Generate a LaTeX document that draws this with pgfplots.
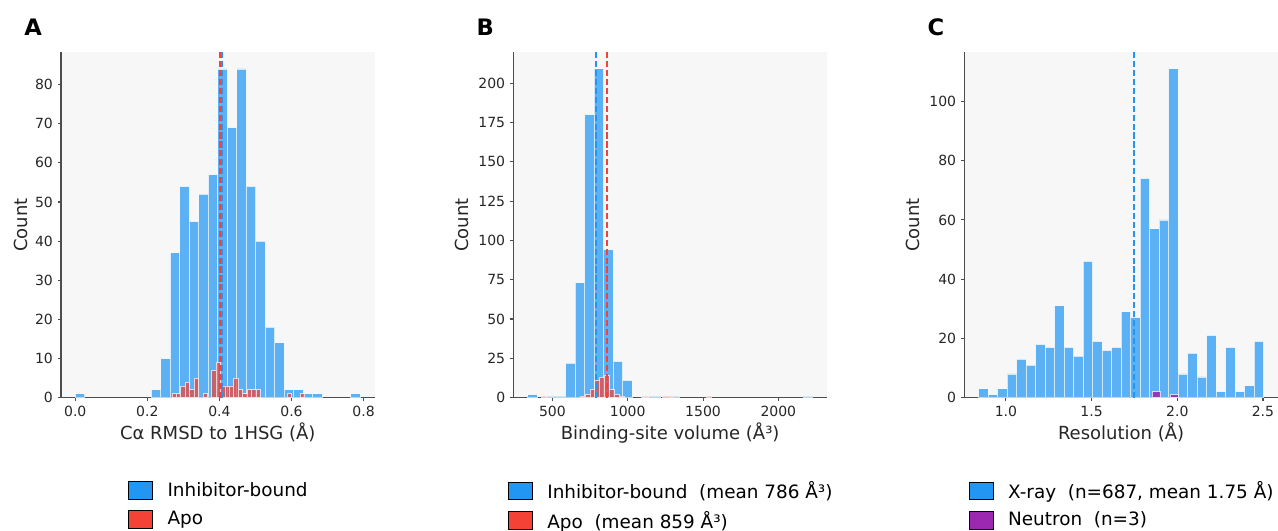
\documentclass[border=0pt]{standalone}
\usepackage{pgfplots}
\pgfplotsset{compat=1.18}
\usepackage{fontspec}
\setmainfont{DejaVu Sans}
\definecolor{cblue}{HTML}{2196F3}
\definecolor{cred}{HTML}{F44336}
\definecolor{cpurple}{HTML}{9C27B0}
\definecolor{bgc}{HTML}{F7F7F7}
\definecolor{spine}{HTML}{4D4D4D}
\tikzset{letter/.style={anchor=base west, inner sep=0pt, font=\bfseries\fontsize{17}{20}\selectfont}}
\pgfplotsset{
  panel/.style={
    scale only axis, width=235.2pt, height=258.9pt, anchor=south west,
    axis x line=bottom, axis y line=left,
    axis background/.style={fill=bgc},
    axis line style={-, spine, line width=0.8pt},
    tick align=outside, major tick length=2.6pt,
    tick style={spine, line width=0.8pt},
    ticklabel style={font=\fontsize{10.5}{12}\selectfont, text=black!85},
    label style={font=\fontsize{13.5}{16}\selectfont, text=black!85},
    /pgf/number format/assume math mode=true,
    /pgf/number format/1000 sep={},
    scaled ticks=false, ymin=0, clip=false,
    ylabel=Count,
    xlabel style={at={(rel axis cs:0.5,0)}, anchor=base, yshift=-31.5pt},
    legend style={draw=none, fill=none, at={(0.5,-0.2412)}, anchor=north,
      font=\fontsize{13.8}{16}\selectfont, row sep=8pt, inner sep=0pt,
      nodes={inner sep=0pt},
      /tikz/every odd column/.append style={column sep=11.25pt}},
    legend cell align=left,
  },
  hb/.style={ybar, bar shift=0pt, bar width=#1, draw=white, draw opacity=0.7,
    line width=0.6pt, fill opacity=0.72, forget plot},
  mline/.style={line width=1.5pt, dash pattern=on 4.6pt off 2.1pt, forget plot},
  patch/.style={legend image code/.code={\fill[##1] (0pt,-6.6pt) rectangle (18pt,6.6pt);}},
}
\begin{document}
\begin{tikzpicture}
\path[use as bounding box] (0,0) rectangle (958.5pt,398.25pt);

% A: C-alpha RMSD
\begin{axis}[panel, at={(45.75pt,100pt)},
  xmin=-0.0396, xmax=0.8306, ymax=88.2,
  xtick={0,0.2,0.4,0.6,0.8}, ytick={0,10,20,30,40,50,60,70,80},
  xticklabel style={/pgf/number format/.cd, fixed, fixed zerofill, precision=1},
  xlabel={Cα RMSD to 1HSG (Å)},
  ylabel style={at={(rel axis cs:0,0.5)}, anchor=center, yshift=29.8pt}]
\addplot[hb=0.02637, fill=cblue] coordinates {
  (0.01319,1) (0.2241,2) (0.2505,10) (0.2769,37) (0.3033,54) (0.3296,45)
  (0.3560,52) (0.3824,57) (0.4087,84) (0.4351,69) (0.4615,84) (0.4879,54)
  (0.5142,40) (0.5406,18) (0.5670,14) (0.5933,2) (0.6197,2) (0.6461,1)
  (0.6725,1) (0.7779,1)};
\addplot[hb=0.01225, fill=cred] coordinates {
  (0.27463,1) (0.28688,1) (0.29913,3) (0.31138,4) (0.32363,2) (0.33588,5)
  (0.36038,1) (0.38488,7) (0.39713,9) (0.40938,3) (0.42163,3) (0.43388,3)
  (0.44613,5) (0.45838,2) (0.47063,1) (0.48288,2) (0.49513,2) (0.50738,2)
  (0.59395,1) (0.63070,1)};
\addplot[mline, cblue] coordinates {(0.408,0) (0.408,88.2)};
\addplot[mline, cred] coordinates {(0.401,0) (0.401,88.2)};
\addlegendimage{patch, fill=cblue}
\addlegendentry{Inhibitor-bound}
\addlegendimage{patch, fill=cred}
\addlegendentry{Apo}
\node[letter] at (rel axis cs:0,1) [xshift=-27.75pt, yshift=12.4pt] {A};
\end{axis}

% B: binding-site volume
\begin{axis}[panel, at={(385pt,100pt)},
  xmin=240.4, xmax=2322.6, ymax=219.45,
  xtick={500,1000,1500,2000}, ytick={0,25,50,75,100,125,150,175,200},
  xlabel={Binding-site volume (Å³)},
  ylabel style={at={(rel axis cs:0,0.5)}, anchor=center, yshift=38.5pt}]
\addplot[hb=63.1, fill=cblue] coordinates {
  (366.55,2) (492.75,1) (555.85,1) (618.95,22) (682.05,73) (745.15,180)
  (808.25,209) (871.35,94) (934.45,23) (997.55,11) (1123.75,1) (1186.85,1)
  (1313.05,1) (2196.45,1)};
\addplot[hb=32.3, fill=cred] coordinates {
  (443.15,1) (700.35,1) (732.65,2) (764.95,5) (797.25,11) (829.55,13)
  (861.85,14) (894.15,5) (926.45,2) (958.75,1) (1120.25,1) (1249.45,1)
  (1281.75,1) (1540.15,1)};
\addplot[mline, cblue] coordinates {(786,0) (786,219.45)};
\addplot[mline, cred] coordinates {(859,0) (859,219.45)};
\addlegendimage{patch, fill=cblue}
\addlegendentry{Inhibitor-bound\ \ (mean 786 Å³)}
\addlegendimage{patch, fill=cred}
\addlegendentry{Apo\ \ (mean 859 Å³)}
\node[letter] at (rel axis cs:0,1) [xshift=-27.75pt, yshift=12.4pt] {B};
\end{axis}

% C: resolution
\begin{axis}[panel, at={(723.2pt,100pt)},
  xmin=0.7568, xmax=2.587, ymax=116.55,
  xtick={1,1.5,2,2.5}, ytick={0,20,40,60,80,100},
  xticklabel style={/pgf/number format/.cd, fixed, fixed zerofill, precision=1},
  xlabel={Resolution (Å)},
  ylabel style={at={(rel axis cs:0,0.5)}, anchor=center, yshift=38.5pt}]
\addplot[hb=0.05547, fill=cblue] coordinates {
  (0.86774,3) (0.92321,1) (0.97868,3) (1.03415,8) (1.08962,13) (1.14509,11)
  (1.20056,18) (1.25603,17) (1.31150,31) (1.36697,17) (1.42244,14) (1.47791,46)
  (1.53338,19) (1.58885,16) (1.64432,17) (1.69979,29) (1.75526,27) (1.81073,74)
  (1.86620,57) (1.92167,60) (1.97714,111) (2.03261,8) (2.08808,15) (2.14355,7)
  (2.19902,21) (2.25449,2) (2.30996,17) (2.36543,2) (2.42090,4) (2.47637,19)};
\addplot[hb=0.049, fill=cpurple, fill opacity=0.85] coordinates {
  (1.8775,2) (1.9825,1)};
\addplot[mline, cblue] coordinates {(1.75,0) (1.75,116.55)};
\addlegendimage{patch, fill=cblue}
\addlegendentry{X-ray\ \ (n=687, mean 1.75 Å)}
\addlegendimage{patch, fill=cpurple}
\addlegendentry{Neutron\ \ (n=3)}
\node[letter] at (rel axis cs:0,1) [xshift=-27.75pt, yshift=12.4pt] {C};
\end{axis}
\end{tikzpicture}
\end{document}
